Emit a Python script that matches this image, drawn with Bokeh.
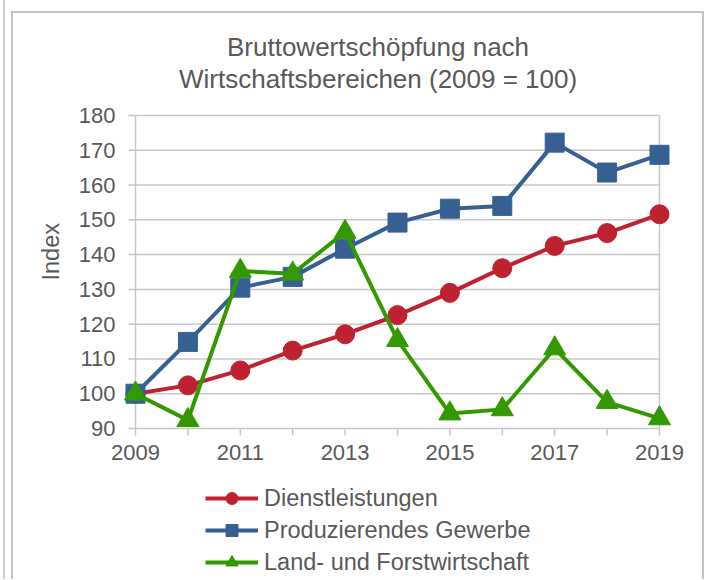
from bokeh.plotting import figure
from bokeh.models import Legend, LegendItem, Range1d, Title, Grid
from bokeh.core.properties import value
from bokeh.embed import file_html
from bokeh.resources import INLINE

years = [2009, 2010, 2011, 2012, 2013, 2014, 2015, 2016, 2017, 2018, 2019]
dienstleistungen = [100.0, 102.4, 106.7, 112.4, 117.1, 122.6, 129.0, 136.1, 142.5, 146.2, 151.6]
produzierendes = [100.0, 114.9, 130.5, 133.6, 141.7, 149.2, 153.2, 154.0, 172.2, 163.6, 168.7]
land_forst = [100.0, 92.4, 135.3, 134.5, 146.5, 115.4, 94.3, 95.5, 113.0, 97.6, 92.9]
series_names = ["Dienstleistungen", "Produzierendes Gewerbe", "Land- und Forstwirtschaft"]
x_label_years = [2009, 2011, 2013, 2015, 2017, 2019]
y_ticks = [90, 100, 110, 120, 130, 140, 150, 160, 170, 180]
title_lines = ["Bruttowertschöpfung nach", "Wirtschaftsbereichen (2009 = 100)"]
y_axis_title = "Index"

FONT = "Liberation Sans"
GRAY_TXT = "#595959"
GRAY_LN = "#c8c8c8"

# layout (pixels)
CANVAS_W, CANVAS_H = 689, 566
BORDER_L, BORDER_T = 56, 80
FRAME_W, FRAME_H = CANVAS_W - BORDER_L, CANVAS_H - BORDER_T
X0, X1 = 2007.7405, 2019.8207
Y0, Y1 = 46.58, 186.326
PX_X = FRAME_W / (X1 - X0)
PX_Y = FRAME_H / (Y1 - Y0)
TICK = 7

p = figure(
    output_backend="svg", toolbar_location=None,
    frame_width=FRAME_W, frame_height=FRAME_H,
    min_border_left=BORDER_L, min_border_right=0, min_border_top=BORDER_T, min_border_bottom=0,
    x_range=Range1d(X0, X1), y_range=Range1d(Y0, Y1),
    x_axis_location=None, y_axis_location=None, title=None,
    styles={
        "margin-left": "11px", "margin-top": "11px",
        "border-left": "2px solid #c3c3c3", "border-top": "2px solid #c3c3c3",
        "border-right": "2px solid #c3c3c3",
        "box-shadow": "-6px 0 0 0 #ffffff, -6px -11px 0 0 #ffffff, -8px 0 0 0 #cfcfcf, -8px -11px 0 0 #cfcfcf",
    },
)
for g in p.select(type=Grid):
    g.visible = False

# two-line title (line 2 closest to the frame)
title_offsets = [157.5, 109.5]
for txt, off in reversed(list(zip(title_lines, title_offsets))):
    p.add_layout(Title(text=txt, align="left", offset=off, text_font=FONT, text_font_size="26px",
                       text_font_style="normal", text_color=GRAY_TXT, standoff=0), "above")

p.add_layout(Title(text=y_axis_title, align="left", offset=299, text_font=FONT, text_font_size="23.5px",
                   text_font_style="normal", text_color=GRAY_TXT, standoff=12), "left")

p.outline_line_color = None
p.background_fill_color = "white"
p.border_fill_color = "white"

# plot box: gridlines, axis lines, tick marks
n = len(y_ticks)
p.segment(x0=[years[0]] * n, x1=[years[-1]] * n, y0=y_ticks, y1=y_ticks,
          line_color=GRAY_LN, line_width=1.5)
p.segment(x0=[years[0], years[-1]], x1=[years[0], years[-1]], y0=[y_ticks[0]] * 2, y1=[y_ticks[-1]] * 2,
          line_color=GRAY_LN, line_width=1.5)
p.segment(x0=[years[0] - TICK / PX_X] * n, x1=[years[0]] * n, y0=y_ticks, y1=y_ticks,
          line_color=GRAY_LN, line_width=1.5)
m = len(years)
p.segment(x0=years, x1=years, y0=[y_ticks[0]] * m, y1=[y_ticks[0] - TICK / PX_Y] * m,
          line_color=GRAY_LN, line_width=1.5)

# tick labels
p.text(x=x_label_years, y=[y_ticks[0]] * len(x_label_years), text=[str(v) for v in x_label_years],
       text_font=value(FONT), text_font_size=value("22px"), text_color=GRAY_TXT,
       text_align="center", text_baseline="top", y_offset=17)
p.text(x=[years[0]] * n, y=y_ticks, text=[str(v) for v in y_ticks],
       text_font=value(FONT), text_font_size=value("22px"), text_color=GRAY_TXT,
       text_align="right", text_baseline="middle", x_offset=-20)

colors = ["#BE2230", "#376092", "#339900"]
values = [dienstleistungen, produzierendes, land_forst]
markers = ["circle", "square", "triangle"]
sizes = [19, 19, 22]

items = []
for name, vals, col, mk, sz in zip(series_names, values, colors, markers, sizes):
    ln = p.line(years, vals, line_color=col, line_width=4)
    sc = p.scatter(years, vals, marker=mk, size=sz, fill_color=col, line_color=col)
    items.append(LegendItem(label=name, renderers=[ln, sc]))

legend = Legend(items=items, location=(136, 2), orientation="vertical")
legend.label_text_font = FONT
legend.label_text_font_size = "23.5px"
legend.label_text_color = GRAY_TXT
legend.glyph_width = 53
legend.glyph_height = 30
legend.label_height = 30
legend.spacing = 2
legend.padding = 0
legend.margin = 0
legend.label_standoff = 6
legend.border_line_color = None
legend.background_fill_alpha = 0
p.add_layout(legend, "center")

open("out.html", "w").write(file_html(p, INLINE))
